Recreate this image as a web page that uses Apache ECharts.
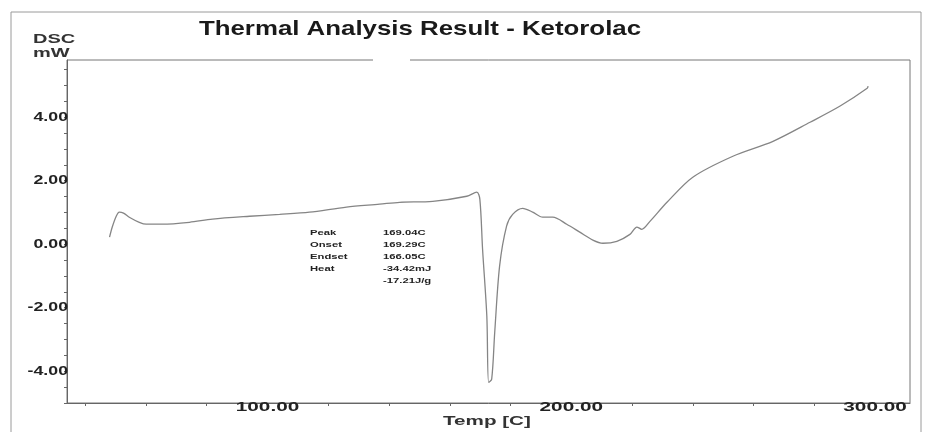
<!DOCTYPE html>
<html>
<head>
<meta charset="utf-8">
<script src="https://cdn.jsdelivr.net/npm/echarts@6/dist/echarts.min.js"></script>
<style>html,body{margin:0;padding:0;background:#fff}#c{width:925px;height:432px}</style>
</head>
<body>
<div id="c"></div>
<script>
// Data (Temp °C, DSC mW)
var temps = [48.0, 48.9, 50.2, 51.2, 52.6, 54.5, 57.8, 60.1, 65.4, 74.3, 81.9, 94.1, 104.0, 113.8, 126.0, 136.9, 143.5, 154.4, 165.6, 168.9, 169.9, 170.8, 172.2, 172.8, 173.8, 174.8, 176.4, 178.7, 180.7, 184.0, 187.3, 190.6, 193.9, 198.5, 202.8, 207.1, 210.4, 215.0, 219.3, 221.6, 223.2, 225.9, 231.5, 240.0, 253.2, 266.4, 278.6, 288.5, 297.4, 297.7];
var dsc = [0.22, 0.54, 0.88, 1.01, 0.98, 0.85, 0.69, 0.63, 0.63, 0.69, 0.79, 0.88, 0.94, 1.01, 1.17, 1.26, 1.32, 1.35, 1.51, 1.64, 1.42, -0.16, -2.27, -4.35, -4.25, -2.77, -0.69, 0.57, 0.94, 1.13, 1.01, 0.85, 0.85, 0.63, 0.38, 0.13, 0.03, 0.09, 0.31, 0.54, 0.47, 0.72, 1.32, 2.11, 2.77, 3.24, 3.84, 4.35, 4.91, 4.98];
var xLabelValues = [100, 200, 300];
var xTickValues = [40, 60, 80, 100, 120, 140, 160, 180, 200, 220, 240, 260, 280, 300];
var yLabelValues = [-4, -2, 0, 2, 4];
var yTickValues = [-5, -4.5, -4, -3.5, -3, -2.5, -2, -1.5, -1, -0.5, 0, 0.5, 1, 1.5, 2, 2.5, 3, 3.5, 4, 4.5, 5, 5.5];
var annotLabels = ['Peak', 'Onset', 'Endset', 'Heat', ''];
var annotValues = ['169.04C', '169.29C', '166.05C', '-34.42mJ', '-17.21J/g'];
var titleText = 'Thermal Analysis Result - Ketorolac';
var yName = 'DSC\nmW';
var xName = 'Temp [C]';

var points = temps.map(function (t, i) { return [t, dsc[i]]; });
var FONT = '"Liberation Sans", Arial, sans-serif';

function txt(x, y, text, size, align, vAlign, scaleX, color) {
  return {
    type: 'text', x: x, y: y, scaleX: scaleX, silent: true, z: 10,
    style: {
      text: text, x: 0, y: 0,
      font: 'bold ' + size + 'px ' + FONT,
      fill: color || '#222',
      align: align, textAlign: align,
      verticalAlign: vAlign, textVerticalAlign: vAlign,
      lineHeight: size + 2
    }
  };
}

var chart = echarts.init(document.getElementById('c'), null, { renderer: 'canvas' });
chart.setOption({
  animation: false,
  backgroundColor: '#fff',
  grid: { left: 67, right: 15, top: 60, bottom: 29, show: true, borderColor: '#777', borderWidth: 1 },
  xAxis: {
    type: 'value', min: 34, max: 311.5,
    axisLine: { onZero: false, lineStyle: { color: '#666' } },
    axisTick: { show: true, length: 3, customValues: xTickValues, lineStyle: { color: '#666' } },
    axisLabel: { show: false },
    splitLine: { show: false }
  },
  yAxis: {
    type: 'value', min: -5, max: 5.8,
    axisLine: { show: true, onZero: false, lineStyle: { color: '#666' } },
    axisTick: { show: true, length: 3, customValues: yTickValues, lineStyle: { color: '#666' } },
    axisLabel: { show: false },
    splitLine: { show: false }
  },
  series: [{
    type: 'line', data: points, showSymbol: false, smooth: 0.3,
    lineStyle: { color: '#858585', width: 1.3 }
  }]
});

// Text elements (labels placed with the library's own scales)
var g = [
  { type: 'rect', shape: { x: 11, y: 12, width: 910, height: 430 }, style: { fill: 'none', stroke: '#9a9a9a', lineWidth: 1 }, silent: true },
  { type: 'rect', shape: { x: 373, y: 57, width: 37, height: 6 }, style: { fill: '#fff' }, silent: true, z: 5 },
  txt(420, 29, titleText, 21, 'center', 'middle', 1.23, '#1a1a1a'),
  txt(33, 32, yName, 12.5, 'left', 'top', 1.6, '#333'),
  txt(443, 422, xName, 12.5, 'left', 'middle', 1.65, '#333')
];
xLabelValues.forEach(function (v) {
  var p = chart.convertToPixel({ xAxisIndex: 0 }, v);
  g.push(txt(p, 408, v.toFixed(2), 12.5, 'center', 'middle', 1.66));
});
yLabelValues.forEach(function (v) {
  var p = chart.convertToPixel({ yAxisIndex: 0 }, v);
  g.push(txt(68, p, v.toFixed(2), 12.5, 'right', 'middle', 1.42));
});
annotLabels.forEach(function (s, i) {
  g.push(txt(310, 233 + i * 12, s, 7.5, 'left', 'middle', 1.5));
  g.push(txt(383, 233 + i * 12, annotValues[i], 7.5, 'left', 'middle', 1.5));
});
chart.setOption({ graphic: g });
</script>
</body>
</html>
